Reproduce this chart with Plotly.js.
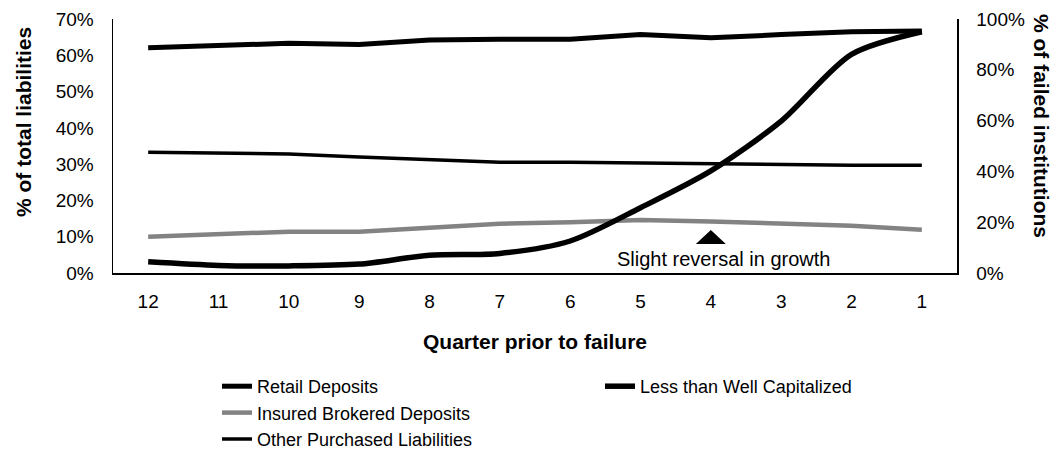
<!DOCTYPE html>
<html>
<head>
<meta charset="utf-8">
<script src="https://cdn.plot.ly/plotly-3.0.1.min.js"></script>
<style>
  html, body { margin: 0; padding: 0; background: #fff; }
  #chart { width: 1054px; height: 471px; }
</style>
</head>
<body>
<div id="chart"></div>
<script>
// quarters before failure, left to right
var quarters = ['12', '11', '10', '9', '8', '7', '6', '5', '4', '3', '2', '1'];

// % of total liabilities (left axis)
var retailDeposits = [62.1, 62.7, 63.3, 63.0, 64.2, 64.4, 64.4, 65.7, 64.8, 65.7, 66.5, 66.7];
var insuredBrokered = [10.0, 10.7, 11.4, 11.4, 12.6, 13.6, 14.0, 14.6, 14.2, 13.7, 13.0, 11.9];
var otherPurchased = [33.3, 33.1, 32.8, 32.0, 31.2, 30.5, 30.5, 30.3, 30.1, 29.7, 29.7, 29.7];

// % of failed institutions (right axis)
var lessThanWellCap = [4.4, 3.0, 2.8, 3.5, 7.0, 7.7, 12.6, 25.7, 40.2, 59.8, 86.1, 95.0];

var font = 'Arial, "Liberation Sans", sans-serif';
var reversalIdx = quarters.indexOf('4');

var data = [
  {
    x: quarters, y: retailDeposits, name: 'Retail Deposits',
    type: 'scatter', mode: 'lines', legend: 'legend',
    line: { color: '#000', width: 5 }
  },
  {
    x: quarters, y: insuredBrokered, name: 'Insured Brokered Deposits',
    type: 'scatter', mode: 'lines', legend: 'legend',
    line: { color: '#838383', width: 4.5 }
  },
  {
    x: quarters, y: otherPurchased, name: 'Other Purchased Liabilities',
    type: 'scatter', mode: 'lines', legend: 'legend',
    line: { color: '#000', width: 3.5 }
  },
  {
    x: quarters, y: lessThanWellCap, name: 'Less than Well Capitalized',
    type: 'scatter', mode: 'lines', yaxis: 'y2', legend: 'legend2',
    line: { color: '#000', width: 5.5, shape: 'spline', smoothing: 0.8 }
  }
];

var layout = {
  width: 1054,
  height: 471,
  margin: { l: 113, r: 97, t: 19, b: 198 },
  paper_bgcolor: '#fff',
  plot_bgcolor: '#fff',
  font: { family: font, size: 19, color: '#000' },
  showlegend: true,
  xaxis: {
    type: 'category',
    range: [-0.5, quarters.length - 0.5],
    autorange: false,
    showgrid: false, zeroline: false,
    showline: true, linecolor: '#000', linewidth: 2,
    ticks: '', ticklabelstandoff: 10,
    tickfont: { size: 19 },
    title: { text: '<b>Quarter prior to failure</b>', font: { size: 21 }, standoff: 24 }
  },
  yaxis: {
    range: [0, 70], autorange: false, dtick: 10, ticksuffix: '%',
    showgrid: false, zeroline: false,
    showline: true, linecolor: '#000', linewidth: 1.5,
    ticks: '', ticklabelstandoff: 14,
    tickfont: { size: 19 }
  },
  yaxis2: {
    overlaying: 'y', side: 'right',
    range: [0, 100], autorange: false, dtick: 20, ticksuffix: '%',
    showgrid: false, zeroline: false,
    showline: true, linecolor: '#000', linewidth: 1.5,
    ticks: '', ticklabelstandoff: 14,
    tickfont: { size: 19 }
  },
  legend: {
    xref: 'paper', yref: 'paper',
    x: (217 - 113) / 844, y: (273 - 368) / 254, xanchor: 'left', yanchor: 'top',
    orientation: 'v', bgcolor: 'rgba(0,0,0,0)',
    font: { size: 18 }
  },
  legend2: {
    xref: 'paper', yref: 'paper',
    x: (600 - 113) / 844, y: (273 - 368) / 254, xanchor: 'left', yanchor: 'top',
    orientation: 'v', bgcolor: 'rgba(0,0,0,0)',
    font: { size: 18 }
  },
  shapes: [
    {
      // marker for the slight reversal at quarter 4
      type: 'path', xref: 'x', yref: 'y',
      xsizemode: 'pixel', ysizemode: 'pixel',
      xanchor: reversalIdx, yanchor: 8,
      path: 'M-15,0 L15,0 L0,14 Z',
      fillcolor: '#000', line: { width: 0 }
    }
  ],
  annotations: [
    {
      text: 'Slight reversal in growth',
      xref: 'x', yref: 'y', x: reversalIdx, y: 3.9,
      xshift: 13, showarrow: false,
      xanchor: 'center', yanchor: 'middle',
      font: { size: 20 }
    },
    {
      text: '<b>% of total liabilities</b>',
      xref: 'paper', yref: 'paper',
      x: (24 - 113) / 844, y: (273 - 122) / 254, textangle: -90,
      showarrow: false, xanchor: 'center', yanchor: 'middle',
      font: { size: 21 }
    },
    {
      text: '<b>% of failed institutions</b>',
      xref: 'paper', yref: 'paper',
      x: (1042 - 113) / 844, y: (273 - 126) / 254, textangle: 90,
      showarrow: false, xanchor: 'center', yanchor: 'middle',
      font: { size: 21 }
    }
  ]
};

Plotly.newPlot('chart', data, layout, { displayModeBar: false, staticPlot: true });
</script>
</body>
</html>
